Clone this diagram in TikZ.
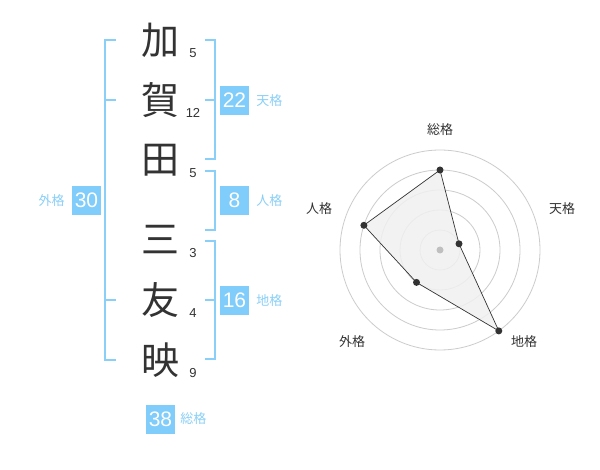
\documentclass[tikz,border=0pt]{standalone}
\usepackage{fontspec}
\setmainfont{Liberation Sans}
\newfontfamily\cjk{Noto Sans CJK JP}
\usetikzlibrary{positioning}
\definecolor{skyline}{HTML}{8ACFF7}
\definecolor{skybox}{HTML}{80CCFA}
\definecolor{inkgray}{HTML}{333333}
\tikzstyle{kanji}=[font=\cjk\fontsize{38}{38}\selectfont,text=inkgray,inner sep=0pt]
\tikzstyle{strokes}=[font=\fontsize{13}{13}\selectfont,text=inkgray,inner sep=0pt]
\tikzstyle{bracket} = [draw=skyline,line width=2pt]
\tikzstyle{scorebox}=[fill=skybox,text=white,minimum size=29pt,inner sep=0pt,font=\fontsize{21}{21}\selectfont]
\tikzstyle{scorename}=[text=skyline,inner sep=0pt,font=\cjk\fontsize{13}{13}\selectfont]
\tikzstyle{ring} = [draw=black!20,line width=0.8pt]
\tikzstyle{axis name}=[text=inkgray,inner sep=0pt,font=\cjk\fontsize{13}{13}\selectfont]
\tikzstyle{score dot}=[circle,fill=inkgray,minimum size=7pt,inner sep=0pt]

\begin{document}
\begin{tikzpicture}[x=1pt,y=-1pt]
\useasboundingbox[fill=white] (0,0) rectangle (600,470);

% The name, one character per row, with its stroke count
\foreach \y / \name / \kanji / \num in {40/ka/加/5,
100/ga/賀/12,
160/ta/田/5,
240/mi/三/3,
300/to/友/4,
360/ei/映/9}
{
\node[kanji] (\name) at (160,\y) {\kanji};
\node[strokes] (\name n) at (193,\y+13) {\num};
}

% Brackets
\path[bracket] (116,40) -- (105,40) -- (105,360) -- (116,360);
\path[bracket] (105,100) -- (116,100);
\path[bracket] (105,300) -- (116,300);
\path[bracket] (205,40) -- (215,40) -- (215,159) -- (205,159);
\path[bracket] (205,100) -- (215,100);
\path[bracket] (205,171) -- (215,171) -- (215,230) -- (205,230);
\path[bracket] (205,241) -- (215,241) -- (215,359) -- (205,359);
\path[bracket] (205,300) -- (215,300);

% Scores
\node[scorebox] (ten) at (234.5,100.5) {22};
\node[scorename,right=7pt of ten] (ten name) {天格};
\node[scorebox] (jin) at (234.5,200.5) {8};
\node[scorename,right=7pt of jin] (jin name) {人格};
\node[scorebox] (chi) at (234.5,300.5) {16};
\node[scorename,right=7pt of chi] (chi name) {地格};
\node[scorebox] (gai) at (86.5,200.5) {30};
\node[scorename,left=7pt of gai] (gai name) {外格};
\node[scorebox] (sou) at (160.5,419) {38};
\node[scorename,right=5pt of sou] (sou name) {総格};

% Radar chart
\coordinate (ctr) at (440,250);
\foreach \r in {20,40,60,80,100}
\path[ring] (ctr) circle (\r pt);

\coordinate (p sou) at (440,170);
\coordinate (p ten) at (459,243.8);
\coordinate (p chi) at (498.8,330.9);
\coordinate (p gai) at (416.5,282.4);
\coordinate (p jin) at (363.9,225.3);
\filldraw[fill=black!6,draw=inkgray,line width=0.7pt,fill opacity=0.85]
(p sou) -- (p ten) -- (p chi) -- (p gai) -- (p jin) -- cycle;
\node[circle,fill=black!25,minimum size=7pt,inner sep=0pt] (mid) at (ctr) {};
\foreach \name in {sou,ten,chi,gai,jin}
\node[score dot] (d \name) at (p \name) {};

\node[axis name] (a sou) at (440,130) {総格};
\node[axis name] (a ten) at (562,209) {天格};
\node[axis name] (a chi) at (524,342) {地格};
\node[axis name] (a gai) at (352,342) {外格};
\node[axis name] (a jin) at (319,209) {人格};

\end{tikzpicture}
\end{document}
